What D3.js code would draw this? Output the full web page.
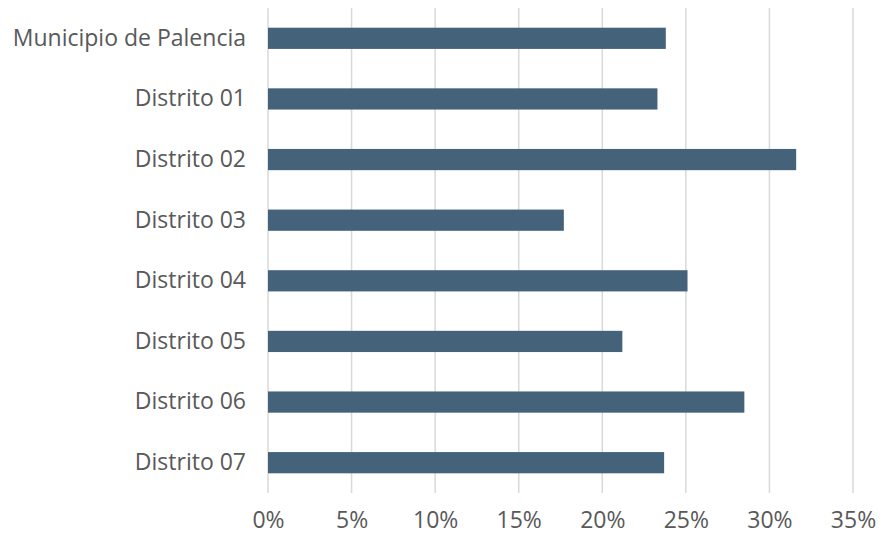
<!DOCTYPE html>
<html>
<head>
<meta charset="utf-8">
<script src="https://cdn.jsdelivr.net/npm/d3@7"></script>
<style>
  html, body { margin: 0; padding: 0; background: #fff; }
  svg { display: block; }
  text { font-family: "Open Sans", "Noto Sans", sans-serif; fill: #595959; }
</style>
</head>
<body>
<svg id="chart" width="884" height="535"></svg>
<script>
// Share per area (percent)
const categories = [
  "Municipio de Palencia",
  "Distrito 01",
  "Distrito 02",
  "Distrito 03",
  "Distrito 04",
  "Distrito 05",
  "Distrito 06",
  "Distrito 07"
];
const values = [23.8, 23.3, 31.6, 17.7, 25.1, 21.2, 28.5, 23.7];
const xTicks = [0, 5, 10, 15, 20, 25, 30, 35];

const svg = d3.select("#chart");
const plot = { left: 268, right: 853, top: 8, bottom: 493 };
const fontSize = 23;

const x = d3.scaleLinear().domain([0, 35]).range([plot.left, plot.right]);
const y = d3.scaleBand().domain(categories)
  .range([plot.top, plot.bottom])
  .paddingInner(0.65).paddingOuter(0.325);

// vertical gridlines
svg.append("g")
  .selectAll("line")
  .data(xTicks)
  .join("line")
  .attr("x1", d => x(d)).attr("x2", d => x(d))
  .attr("y1", plot.top).attr("y2", plot.bottom)
  .attr("stroke", "#d9d9d9")
  .attr("stroke-width", 1.5);

// bars
svg.append("g")
  .selectAll("rect")
  .data(values)
  .join("rect")
  .attr("x", x(0))
  .attr("y", (d, i) => y(categories[i]))
  .attr("width", d => x(d) - x(0))
  .attr("height", y.bandwidth())
  .attr("fill", "#45627b");

// x axis
const xAxis = svg.append("g")
  .attr("transform", `translate(0,${plot.bottom})`)
  .call(d3.axisBottom(x).tickValues(xTicks).tickSize(0).tickPadding(19)
    .tickFormat(d => d + "%"));
xAxis.select(".domain").remove();

// y axis
const yAxis = svg.append("g")
  .attr("transform", `translate(${plot.left},0)`)
  .call(d3.axisLeft(y).tickSize(0).tickPadding(22));
yAxis.select(".domain").remove();

svg.selectAll(".tick text")
  .attr("font-family", null)
  .attr("font-size", fontSize)
  .attr("fill", "#595959");
</script>
</body>
</html>
